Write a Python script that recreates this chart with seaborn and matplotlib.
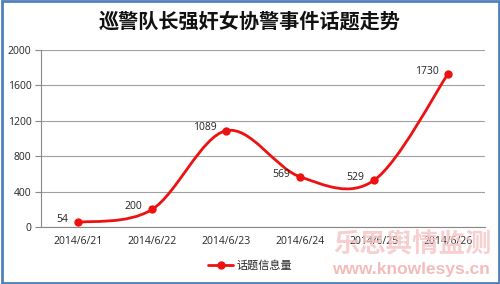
import matplotlib
matplotlib.use("Agg")
import matplotlib.pyplot as plt
import seaborn as sns
import pandas as pd
import numpy as np
from matplotlib.path import Path
from matplotlib.patches import PathPatch, Rectangle
from matplotlib.lines import Line2D

title = "巡警队长强奸女协警事件话题走势"
categories = ["2014/6/21", "2014/6/22", "2014/6/23", "2014/6/24", "2014/6/25", "2014/6/26"]
values = [54, 200, 1089, 569, 529, 1730]
series_name = "话题信息量"
yticks = [0, 400, 800, 1200, 1600, 2000]

sns.set_theme(style="white")
plt.rcParams['font.family'] = ['Noto Sans CJK SC', 'DejaVu Sans']

fig = plt.figure(figsize=(5.0, 2.84), dpi=100)
fig.patch.set_facecolor("white")
ax = fig.add_axes([0.082, 0.2, 0.888, 0.624])

red = "#EE1111"
df = pd.DataFrame({"pos": np.arange(len(categories)), "val": values})

# smooth curve (Excel-style Bezier through data points)
pts = np.column_stack([df["pos"].values.astype(float), df["val"].values.astype(float)])
n = len(pts)
tang = []
for i in range(n):
    a = pts[max(i - 1, 0)]
    b = pts[min(i + 1, n - 1)]
    tang.append((b - a) / 2.0)
verts = [tuple(pts[0])]
codes = [Path.MOVETO]
for i in range(n - 1):
    c1 = pts[i] + tang[i] / 3.0
    c2 = pts[i + 1] - tang[i + 1] / 3.0
    verts += [tuple(c1), tuple(c2), tuple(pts[i + 1])]
    codes += [Path.CURVE4] * 3
ax.add_patch(PathPatch(Path(verts, codes), fill=False, edgecolor=red, lw=2.0, zorder=3))

sns.lineplot(data=df, x="pos", y="val", marker="o", linestyle="", color=red,
             markersize=6, markeredgewidth=0, ax=ax, zorder=4, legend=False)

for x, v in zip(df["pos"], df["val"]):
    ax.annotate(str(v), (x, v), xytext=(-7, 2), textcoords="offset points",
                ha="right", va="center", fontsize=7.5, color="#222222",
                family=["Open Sans", "DejaVu Sans"])

ax.set_xlim(-0.5, len(categories) - 0.5)
ax.set_ylim(0, 2000)
ax.set_yticks(yticks)
ax.set_yticklabels([str(t) for t in yticks], fontsize=7.5, family=["Open Sans", "DejaVu Sans"])
ax.set_xticks(np.arange(len(categories)))
ax.set_xticklabels(categories, fontsize=7.5, family=["Open Sans", "DejaVu Sans"])
ax.set_xticks(np.arange(-0.5, len(categories), 1.0), minor=True)
ax.tick_params(axis="x", which="major", length=0, pad=6)
ax.tick_params(axis="x", which="minor", length=4, color="#888888", width=0.8, direction="out")
ax.tick_params(axis="y", length=4, color="#888888", width=0.8, direction="out", left=True, pad=3)
ax.set_xlabel("")
ax.set_ylabel("")
ax.yaxis.grid(True, color="#A0A0A0", lw=0.8)
ax.set_axisbelow(True)
for s in ["top", "right"]:
    ax.spines[s].set_visible(False)
for s in ["left", "bottom"]:
    ax.spines[s].set_color("#888888")
    ax.spines[s].set_linewidth(0.8)

fig.text(0.5, 0.925, title, ha="center", va="center", fontsize=14.5,
         fontweight="bold", color="#111111")

handle = Line2D([0], [0], color=red, lw=2.0, marker="o", markersize=6, markeredgewidth=0)
fig.legend([handle], [series_name], loc="center", bbox_to_anchor=(0.5, 0.065),
           frameon=False, fontsize=8, handlelength=2.2, handletextpad=0.3)

# watermark
fig.text(0.825, 0.137, "乐思舆情监测", ha="center", va="center", fontsize=19,
         color="#F6C4C4", alpha=0.8, fontweight="bold", zorder=10)
fig.text(0.822, 0.05, "www.knowlesys.cn", ha="center", va="center", fontsize=12.5,
         color="#F4B0B0", alpha=0.85, fontweight="bold", zorder=10,
         family=["Liberation Sans", "DejaVu Sans"])

fig.patches.append(Rectangle((0.003, 0.005), 0.994, 0.99, transform=fig.transFigure,
                             fill=False, edgecolor="#4F81BD", lw=2.0, zorder=20))

fig.savefig("out.png", dpi=100, facecolor="white")
